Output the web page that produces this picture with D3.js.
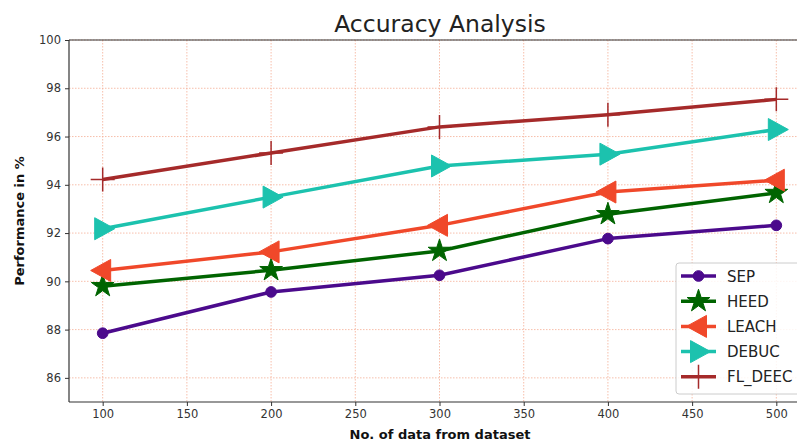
<!DOCTYPE html>
<html>
<head>
<meta charset="utf-8">
<script src="https://cdn.jsdelivr.net/npm/d3@7"></script>
<style>
body { margin: 0; background: #fff; }
text { font-family: "DejaVu Sans", sans-serif; }
</style>
</head>
<body>
<div id="chart"></div>
<script>
// data
var xValues = [100, 200, 300, 400, 500];
var sep = [87.85, 89.56, 90.25, 91.77, 92.32];
var heed = [89.8, 90.46, 91.26, 92.78, 93.66];
var leach = [90.45, 91.22, 92.32, 93.7, 94.19];
var debuc = [92.18, 93.49, 94.78, 95.27, 96.29];
var flDeec = [94.22, 95.32, 96.4, 96.9, 97.54];
var seriesNames = ["SEP", "HEED", "LEACH", "DEBUC", "FL_DEEC"];
var xTicks = [100, 150, 200, 250, 300, 350, 400, 450, 500];
var yTicks = [86, 88, 90, 92, 94, 96, 98, 100];

var svgWidth = 797, svgHeight = 441;
var margin = {top: 40, left: 69, right: -13, bottom: 39};
var width = svgWidth - margin.left - margin.right;
var height = svgHeight - margin.top - margin.bottom;

var svg = d3.select("#chart").append("svg")
    .attr("width", svgWidth)
    .attr("height", svgHeight);

var chartGroup = svg.append("g")
    .attr("transform", `translate(${margin.left}, ${margin.top})`);

var xScale = d3.scaleLinear().domain([80, 520]).range([0, width]);
var yScale = d3.scaleLinear().domain([85, 100]).range([height, 0]);

// grid
var gridColor = "#f5ae96";
chartGroup.append("g").selectAll("line")
    .data(xTicks).enter().append("line")
    .attr("x1", d => xScale(d)).attr("x2", d => xScale(d))
    .attr("y1", 0).attr("y2", height)
    .attr("stroke", gridColor).attr("stroke-width", 0.8)
    .attr("stroke-dasharray", "1.5,1.5");
chartGroup.append("g").selectAll("line")
    .data(yTicks).enter().append("line")
    .attr("y1", d => yScale(d)).attr("y2", d => yScale(d))
    .attr("x1", 0).attr("x2", width)
    .attr("stroke", gridColor).attr("stroke-width", 0.8)
    .attr("stroke-dasharray", "1.5,1.5");

// axes
var bottomAxis = d3.axisBottom(xScale).tickValues(xTicks).tickSize(4).tickPadding(4);
var leftAxis = d3.axisLeft(yScale).tickValues(yTicks).tickSize(4).tickPadding(4);
var xAxisG = chartGroup.append("g").attr("transform", `translate(0,${height})`).call(bottomAxis);
var yAxisG = chartGroup.append("g").call(leftAxis);
[xAxisG, yAxisG].forEach(function(g) {
    g.select(".domain").remove();
    g.selectAll("line").attr("stroke", "#333");
    g.selectAll("text").attr("font-size", "11.5px").attr("fill", "#333")
        .style("font-family", "DejaVu Sans, sans-serif");
});
// spines
chartGroup.append("line").attr("x1", 0).attr("x2", 0).attr("y1", 0).attr("y2", height)
    .attr("stroke", "#333").attr("stroke-width", 1.2);
chartGroup.append("line").attr("x1", 0).attr("x2", width).attr("y1", height).attr("y2", height)
    .attr("stroke", "#333").attr("stroke-width", 1.2);
chartGroup.append("line").attr("x1", 0).attr("x2", width).attr("y1", 0).attr("y2", 0)
    .attr("stroke", "#333").attr("stroke-width", 1.2);

// series
var series = [
    {name: seriesNames[0], values: sep, color: "#4b0a8c", marker: "circle"},
    {name: seriesNames[1], values: heed, color: "#006400", marker: "star"},
    {name: seriesNames[2], values: leach, color: "#f0482a", marker: "left"},
    {name: seriesNames[3], values: debuc, color: "#1cc2ae", marker: "right"},
    {name: seriesNames[4], values: flDeec, color: "#a52a2a", marker: "plus"}
];

function markerPath(type) {
    if (type === "circle") return d3.symbol(d3.symbolCircle, 90)();
    if (type === "star") return d3.symbol(d3.symbolStar, 160)();
    if (type === "left") return "M-12,0L8,-11L8,11Z";
    if (type === "right") return "M12,0L-8,-11L-8,11Z";
    if (type === "plus") return "M-12,0L12,0M0,-12L0,12";
}

function drawMarker(g, s, x, y) {
    var p = g.append("path")
        .attr("d", markerPath(s.marker))
        .attr("transform", `translate(${x},${y})`);
    if (s.marker === "plus") {
        p.attr("fill", "none").attr("stroke", s.color).attr("stroke-width", 1.5);
    } else {
        p.attr("fill", s.color).attr("stroke", s.color).attr("stroke-width", 1);
    }
}

var line = d3.line().x((d, i) => xScale(xValues[i])).y(d => yScale(d));

series.forEach(function(s) {
    var g = chartGroup.append("g");
    g.append("path")
        .attr("d", line(s.values))
        .attr("fill", "none")
        .attr("stroke", s.color)
        .attr("stroke-width", 3.5)
        .attr("stroke-linejoin", "round");
    s.values.forEach(function(v, i) {
        drawMarker(g, s, xScale(xValues[i]), yScale(v));
    });
});

// legend
var legend = svg.append("g").attr("transform", "translate(676, 263)");
legend.append("rect")
    .attr("x", 0).attr("y", 0).attr("width", 130).attr("height", 131)
    .attr("rx", 3)
    .attr("fill", "rgba(255,255,255,0.85)")
    .attr("stroke", "#ccc");
series.forEach(function(s, i) {
    var y = 13 + i * 25.2;
    var item = legend.append("g");
    item.append("line").attr("x1", 5).attr("x2", 40).attr("y1", y).attr("y2", y)
        .attr("stroke", s.color).attr("stroke-width", 3.5);
    drawMarker(item, s, 22.5, y);
    item.append("text").attr("x", 51).attr("y", y + 5.5)
        .attr("font-size", "15px").attr("fill", "#222").text(s.name);
});

// labels
svg.append("text")
    .attr("x", 440).attr("y", 32)
    .attr("text-anchor", "middle")
    .attr("font-size", "23.5px").attr("fill", "#222")
    .text("Accuracy Analysis");

svg.append("text")
    .attr("x", 440).attr("y", 439)
    .attr("text-anchor", "middle")
    .attr("font-size", "13px").attr("font-weight", "bold").attr("fill", "#111")
    .text("No. of data from dataset");

svg.append("text")
    .attr("transform", "translate(24, 221) rotate(-90)")
    .attr("text-anchor", "middle")
    .attr("font-size", "13px").attr("font-weight", "bold").attr("fill", "#111")
    .text("Performance in %");
</script>
</body>
</html>
